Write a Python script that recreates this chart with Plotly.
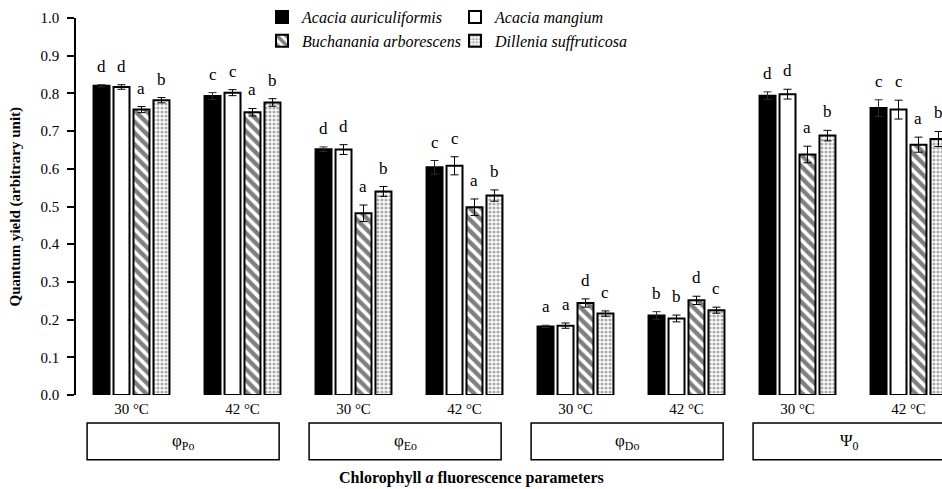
import plotly.graph_objects as go

# Temperature treatments along the x axis (two per parameter)
temps = ["30 °C", "42 °C", "30 °C", "42 °C", "30 °C", "42 °C", "30 °C", "42 °C"]
params = ["φ<sub>Po</sub>", "φ<sub>Eo</sub>", "φ<sub>Do</sub>", "Ψ<sub>0</sub>"]

species = ["Acacia auriculiformis", "Acacia mangium",
           "Buchanania arborescens", "Dillenia suffruticosa"]

# Mean quantum yields per treatment
A_auri = [0.820, 0.793, 0.652, 0.604, 0.182, 0.211, 0.794, 0.761]
A_mang = [0.817, 0.802, 0.651, 0.608, 0.184, 0.203, 0.798, 0.757]
B_arbo = [0.757, 0.750, 0.482, 0.498, 0.244, 0.251, 0.638, 0.664]
D_suff = [0.782, 0.776, 0.540, 0.529, 0.216, 0.225, 0.688, 0.679]

# Standard errors
A_auri_err = [0.003, 0.009, 0.006, 0.018, 0.003, 0.010, 0.010, 0.022]
A_mang_err = [0.006, 0.008, 0.013, 0.024, 0.007, 0.009, 0.013, 0.025]
B_arbo_err = [0.008, 0.010, 0.022, 0.022, 0.011, 0.011, 0.022, 0.020]
D_suff_err = [0.007, 0.010, 0.013, 0.015, 0.007, 0.008, 0.014, 0.020]

# Significance letters
A_auri_sig = ["d", "c", "d", "c", "a", "b", "d", "c"]
A_mang_sig = ["d", "c", "d", "c", "a", "b", "d", "c"]
B_arbo_sig = ["a", "a", "a", "a", "d", "d", "a", "a"]
D_suff_sig = ["b", "b", "b", "b", "c", "c", "b", "b"]

values = [A_auri, A_mang, B_arbo, D_suff]
errors = [A_auri_err, A_mang_err, B_arbo_err, D_suff_err]
letters = [A_auri_sig, A_mang_sig, B_arbo_sig, D_suff_sig]

SERIF = "Liberation Serif, Times New Roman, DejaVu Serif, serif"
W, H = 942, 489
ML, MR, MT, MB = 76, 0, 17, 94
plot_w = W - ML - MR
plot_h = H - MT - MB
px_per_cat = 111.0
x_lo = -0.5
x_hi = x_lo + plot_w / px_per_cat


def ypaper(px):
    """Convert a pixel row of the page into paper coordinates."""
    return (MT + plot_h - px) / plot_h


def xpaper(px):
    return (px - ML) / plot_w


xs = list(range(len(temps)))

styles = [
    dict(color="black", pattern=None),
    dict(color="white", pattern=None),
    dict(color="white", pattern=dict(shape="\\", fgcolor="black", bgcolor="white",
                                     size=8, solidity=0.55)),
    dict(color="white", pattern=dict(shape=".", fgcolor="#555555", bgcolor="white",
                                     size=4, solidity=0.5)),
]
legend_ref = ["legend", "legend2", "legend", "legend2"]

fig = go.Figure()
for i, name in enumerate(species):
    marker = dict(color=styles[i]["color"], line=dict(color="black", width=2))
    if styles[i]["pattern"] is not None:
        marker["pattern"] = styles[i]["pattern"]
    fig.add_trace(go.Bar(
        x=xs, y=values[i], name=name, marker=marker,
        error_y=dict(type="data", array=errors[i], visible=True,
                     color="#2a2a2a" if i == 0 else "black",
                     thickness=1, width=4),
        legend=legend_ref[i], legendgroup=name,
        cliponaxis=True,
    ))

# Significance letters above each bar
group_w = 0.72
slot = group_w / 4
annotations = []
for i in range(4):
    off = -group_w / 2 + slot * (i + 0.5)
    for k in xs:
        annotations.append(dict(
            x=k + off, y=values[i][k] + errors[i][k], xref="x", yref="y",
            text=letters[i][k], showarrow=False, yanchor="bottom", xanchor="center",
            yshift=7, font=dict(family=SERIF, size=17, color="black"),
        ))

# Parameter boxes below the temperature labels
box_top = ypaper(423)
box_bot = ypaper(460)
shapes = []
for j, p in enumerate(params):
    x0 = 2 * j - 0.40
    x1 = 2 * j + 1 + 0.33
    shapes.append(dict(type="rect", xref="x", yref="paper", x0=x0, x1=x1,
                       y0=box_bot, y1=box_top, line=dict(color="black", width=1.5),
                       fillcolor="rgba(0,0,0,0)"))
    annotations.append(dict(
        x=(x0 + x1) / 2, y=ypaper(442), xref="x", yref="paper",
        xanchor="center", yanchor="middle",
        text=p, showarrow=False, font=dict(family=SERIF, size=17, color="black"),
    ))

# Axis titles
annotations.append(dict(
    x=xpaper(471), y=ypaper(478), xref="paper", yref="paper",
    xanchor="center", yanchor="middle",
    text="<b>Chlorophyll <i>a</i> fluorescence parameters</b>", showarrow=False,
    font=dict(family=SERIF, size=16, color="black"),
))
annotations.append(dict(
    x=xpaper(15), y=0.5, xref="paper", yref="paper", textangle=-90,
    xanchor="center", yanchor="middle",
    text="<b>Quantum yield (arbitrary unit)</b>", showarrow=False,
    font=dict(family=SERIF, size=15, color="black"),
))

legend_font = dict(family=SERIF, size=16, color="black", style="italic")
fig.update_layout(
    width=W, height=H,
    margin=dict(l=ML, r=MR, t=MT, b=MB, pad=0),
    paper_bgcolor="white", plot_bgcolor="white",
    barmode="group", bargap=0.28, bargroupgap=0.2,
    showlegend=True,
    legend=dict(x=xpaper(262), y=ypaper(-1), xanchor="left", yanchor="top",
                orientation="v", font=legend_font, tracegroupgap=0,
                bgcolor="rgba(0,0,0,0)"),
    legend2=dict(x=xpaper(455), y=ypaper(-1), xanchor="left", yanchor="top",
                 orientation="v", font=legend_font, tracegroupgap=0,
                 bgcolor="rgba(0,0,0,0)"),
    xaxis=dict(range=[x_lo, x_hi], tickmode="array", tickvals=xs, ticktext=temps,
               showline=False, showgrid=False, zeroline=False, ticks="",
               ticklabelstandoff=3,
               tickfont=dict(family=SERIF, size=15, color="black")),
    yaxis=dict(range=[0, 1.0], dtick=0.1, tick0=0, tickformat=".1f",
               showline=True, linecolor="black", linewidth=1.5,
               ticks="outside", ticklen=7, tickwidth=1.5, tickcolor="black",
               ticklabelstandoff=5,
               showgrid=False, zeroline=False,
               tickfont=dict(family=SERIF, size=15, color="black")),
    annotations=annotations,
    shapes=shapes,
)

fig.write_html("out.html")
